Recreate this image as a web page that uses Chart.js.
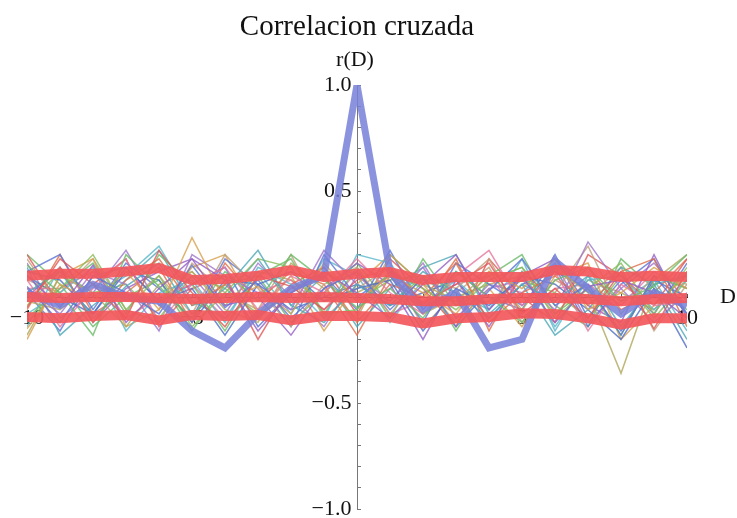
<!DOCTYPE html>
<html>
<head>
<meta charset="utf-8">
<script src="https://cdn.jsdelivr.net/npm/chart.js@4/dist/chart.umd.min.js"></script>
<style>
  html, body { margin: 0; padding: 0; background: #fff; }
  #wrap { width: 737px; height: 518px; }
</style>
</head>
<body>
<div id="wrap"><canvas id="myChart" width="737" height="518"></canvas></div>
<script>
// lags D = -10 .. 10
var lags = [-10,-9,-8,-7,-6,-5,-4,-3,-2,-1,0,1,2,3,4,5,6,7,8,9,10]

// thick curves
var autoCorr  = [0.02,-0.04,0.06,0.00,-0.02,-0.16,-0.24,-0.08,0.04,0.10,1.00,0.12,-0.06,0.02,-0.24,-0.20,0.17,0.04,-0.08,0.02,-0.04]
var bandUpper = [0.10,0.11,0.11,0.12,0.137,0.08,0.085,0.10,0.127,0.094,0.11,0.118,0.08,0.094,0.094,0.094,0.127,0.12,0.094,0.10,0.094]
var bandMean  = [0.00,-0.005,0.00,0.00,-0.005,-0.01,-0.005,0.00,-0.005,0.00,-0.005,-0.01,-0.02,-0.02,-0.01,-0.005,-0.005,-0.01,-0.02,-0.01,-0.005]
var bandLower = [-0.094,-0.10,-0.09,-0.085,-0.11,-0.085,-0.09,-0.085,-0.11,-0.09,-0.09,-0.095,-0.125,-0.10,-0.094,-0.077,-0.08,-0.10,-0.13,-0.10,-0.10]

// thin cross-correlation curves
var cross1  = [0.05,-0.12,0.10,0.02,-0.08,0.15,-0.05,0.08,-0.10,0.04,0.12,-0.06,0.09,-0.14,0.03,0.18,-0.04,0.06,-0.18,0.10,-0.08]
var cross2  = [0.15,0.02,-0.18,0.20,0.05,-0.10,0.12,-0.02,0.20,0.08,-0.05,0.04,-0.10,0.12,0.00,-0.12,0.08,0.14,-0.02,0.05,0.20]
var cross3  = [-0.05,0.18,0.06,-0.10,0.22,0.02,-0.14,0.10,0.05,-0.06,0.08,0.14,-0.03,0.06,0.16,-0.08,0.04,-0.10,0.12,-0.15,0.12]
var cross4  = [0.10,-0.05,0.15,-0.12,0.04,0.18,0.08,-0.16,0.02,0.12,0.02,-0.10,0.06,0.20,-0.06,0.10,-0.12,0.05,0.08,0.02,-0.10]
var cross5  = [-0.15,0.06,-0.02,0.12,-0.06,0.28,-0.02,0.05,-0.08,0.16,-0.02,0.10,0.02,-0.08,0.12,0.04,0.18,-0.06,0.02,0.14,0.04]
var cross6  = [0.02,0.12,-0.10,0.05,0.16,-0.08,0.04,0.22,-0.04,-0.12,0.06,-0.04,0.12,0.02,-0.10,0.06,-0.02,0.10,-0.14,0.06,0.10]
var cross7  = [0.08,-0.14,0.04,0.18,-0.12,0.06,0.14,-0.06,0.10,0.02,0.18,0.02,-0.08,0.10,0.22,-0.04,0.12,-0.16,0.06,-0.04,-0.02]
var cross8  = [-0.10,0.04,0.20,-0.06,0.10,-0.14,0.02,0.18,0.14,-0.08,-0.06,0.12,0.04,-0.06,0.08,0.14,-0.10,0.04,0.16,-0.08,0.14]
var cross9  = [0.12,0.08,-0.08,0.14,-0.02,0.04,-0.18,0.06,0.12,-0.02,0.04,0.08,-0.16,0.04,-0.04,0.10,0.06,-0.06,-0.20,0.04,-0.24]
var cross10 = [-0.18,0.10,0.02,-0.14,0.06,0.12,-0.06,-0.12,0.16,0.04,-0.10,0.20,0.06,-0.02,0.12,-0.06,0.14,0.02,-0.36,0.08,0.20]
var cross11 = [0.04,-0.08,0.12,0.06,-0.16,0.20,0.10,0.02,-0.06,0.22,0.06,-0.02,0.14,-0.10,0.04,0.08,-0.06,0.26,0.04,-0.12,0.02]
var cross12 = [-0.02,0.14,-0.12,0.08,0.18,-0.04,0.06,-0.10,0.04,0.10,-0.12,0.06,0.00,0.16,-0.12,0.02,0.10,-0.04,0.12,0.18,-0.14]
var cross13 = [0.18,-0.04,0.06,-0.02,0.10,-0.08,0.20,0.04,-0.14,0.06,0.14,-0.08,0.10,0.04,0.18,-0.10,0.02,0.24,-0.08,0.10,0.06]
var cross14 = [-0.08,0.02,0.14,-0.16,0.02,0.08,-0.12,0.14,0.06,-0.10,0.20,0.16,-0.04,0.08,-0.06,0.12,-0.14,0.08,0.10,-0.06,0.08]
var cross15 = [0.12,0.20,-0.06,0.16,0.04,-0.10,0.18,0.06,-0.14,0.20,0.00,0.10,-0.12,0.16,0.06,-0.04,0.14,-0.14,0.06,0.18,-0.08]
var cross16 = [-0.12,0.04,0.16,-0.08,0.20,0.06,-0.16,0.10,0.18,-0.08,0.14,-0.10,0.18,-0.04,0.10,0.20,-0.08,0.04,-0.18,0.10,0.04]
var cross17 = [0.20,-0.04,0.06,0.18,-0.14,0.04,0.10,-0.20,0.06,0.14,-0.08,0.18,0.04,-0.14,0.18,0.00,-0.12,0.20,0.10,-0.04,0.18]
var cross18 = [0.00,0.14,-0.12,0.04,0.12,0.18,-0.04,0.00,-0.18,0.04,0.16,0.06,-0.20,0.08,-0.14,0.10,0.18,-0.04,-0.12,0.20,-0.10]
var cross19 = [-0.20,0.10,0.18,-0.14,-0.06,0.14,0.20,-0.08,0.10,-0.16,0.06,0.20,0.06,-0.12,0.04,-0.14,0.10,0.16,-0.20,-0.04,0.10]
var cross20 = [0.14,-0.18,-0.04,0.08,0.22,-0.04,0.00,0.18,-0.04,0.10,-0.14,0.04,0.14,0.20,-0.08,0.06,-0.18,-0.06,0.14,0.06,-0.20]
var cross21 = [0.04,0.04,0.12,-0.10,0.00,0.06,-0.10,0.02,0.08,-0.06,0.12,-0.08,-0.02,0.06,0.10,-0.10,0.04,0.06,-0.04,0.12,0.04]
var cross22 = [-0.04,0.12,0.02,0.06,-0.10,0.10,0.04,-0.08,0.02,0.14,-0.02,0.08,0.10,-0.04,-0.02,0.08,0.02,-0.10,0.10,-0.10,0.08]
var cross23 = [0.10,0.00,-0.08,0.12,0.08,-0.12,0.08,0.06,-0.06,0.00,0.06,-0.04,0.02,0.08,-0.10,0.06,0.12,0.04,-0.16,0.08,0.00]
var cross24 = [-0.02,-0.06,0.06,0.00,-0.02,0.12,-0.04,0.12,0.08,-0.02,0.02,0.10,-0.08,0.00,0.06,0.10,-0.08,0.08,0.02,-0.06,0.12]
var cross25 = [0.16,-0.10,0.02,0.22,-0.04,0.10,-0.08,0.16,0.00,-0.14,0.10,-0.02,0.16,-0.10,0.06,0.02,0.16,-0.12,0.04,0.16,-0.02]
var cross26 = [-0.06,0.20,-0.08,0.02,0.14,-0.12,0.16,-0.02,0.12,0.06,-0.18,0.10,-0.04,0.18,-0.16,0.12,-0.02,0.14,-0.06,0.02,0.18]
var cross27 = [0.08,0.02,0.18,-0.06,-0.12,0.16,0.02,-0.06,0.20,-0.10,0.04,0.14,-0.14,0.02,0.14,-0.12,0.08,0.00,0.14,-0.16,0.06]
var cross28 = [-0.14,0.14,0.00,0.10,0.24,-0.02,-0.10,0.12,-0.08,0.18,0.10,-0.12,0.08,0.02,-0.06,0.18,-0.16,0.10,-0.02,0.08,-0.16]
var cross29 = [0.02,-0.16,0.10,0.14,-0.02,0.06,0.14,-0.14,0.02,0.10,-0.06,0.22,-0.06,0.12,0.00,-0.06,0.20,-0.10,0.08,-0.08,0.16]
var cross30 = [0.20,0.06,-0.14,0.00,0.08,-0.16,0.06,0.10,-0.12,0.02,0.16,-0.04,0.10,-0.16,0.08,0.14,-0.04,-0.14,0.18,0.04,-0.06]

var crossSeries = [cross1,cross2,cross3,cross4,cross5,cross6,cross7,cross8,cross9,cross10,
                   cross11,cross12,cross13,cross14,cross15,cross16,cross17,cross18,cross19,cross20,
                   cross21,cross22,cross23,cross24,cross25,cross26,cross27,cross28,cross29,cross30]
var crossColors = ['#5f76d4','#6cbc6a','#e05a5a','#9560c4','#d8a050','#4fa8b8','#e678a0','#88bc5c',
                   '#5070c4','#b0a860','#a078cc','#e0704c','#c0a07c','#5cb8cc']

var yLabels = {'1': '1.0', '0.5': '0.5', '-0.5': '\u22120.5', '-1': '\u22121.0'}
var xLabels = [-10, -5, 5, 10]

var serif = "'Liberation Serif', 'DejaVu Serif', serif"

function toPoints(values){
  return values.map(function(v, i){ return {x: lags[i], y: v} })
}

var datasets = []
;[bandUpper, bandMean, bandLower].forEach(function(vals){
  datasets.push({data: toPoints(vals), borderColor: 'rgba(243,88,92,0.92)', borderWidth: 10,
                 pointRadius: 0, tension: 0, borderJoinStyle: 'round', borderCapStyle: 'round', order: 0})
})
datasets.push({data: toPoints(autoCorr), borderColor: 'rgba(120,128,216,0.85)', borderWidth: 7,
               pointRadius: 0, tension: 0, borderJoinStyle: 'miter', order: 1})
crossSeries.forEach(function(vals, i){
  datasets.push({data: toPoints(vals), borderColor: crossColors[i % crossColors.length] + 'd0', borderWidth: 1.5,
                 pointRadius: 0, tension: 0, order: 2})
})

var axisText = {
  id: 'axisText',
  afterDraw: function(chart){
    var ctx = chart.ctx
    var x0 = chart.scales.x.getPixelForValue(0)
    var y0 = chart.scales.y.getPixelForValue(0)
    ctx.save()
    ctx.fillStyle = '#111'
    ctx.textAlign = 'center'
    ctx.textBaseline = 'alphabetic'
    ctx.font = '29px ' + serif
    ctx.fillText('Correlacion cruzada', x0, 35)
    ctx.font = '22px ' + serif
    ctx.fillText('r(D)', x0 - 2, 66)
    ctx.textAlign = 'left'
    ctx.textBaseline = 'middle'
    ctx.fillText('D', chart.scales.x.right + 33, y0)
    ctx.restore()
  }
}

function noPadding(scale){
  scale.paddingTop = 0
  scale.paddingBottom = 0
  scale.paddingLeft = 0
  scale.paddingRight = 0
}

var ctx = document.getElementById('myChart').getContext('2d')
new Chart(ctx, {
  type: 'line',
  data: { datasets: datasets },
  options: {
    responsive: false,
    animation: false,
    events: [],
    layout: { padding: { left: 27, right: 50, top: 85, bottom: 9 } },
    plugins: { legend: { display: false }, title: { display: false }, tooltip: { enabled: false } },
    scales: {
      x: {
        type: 'linear', min: -10, max: 10, z: 1,
        position: { y: 0 },
        afterFit: noPadding,
        border: { color: '#222', width: 1 },
        grid: { drawOnChartArea: false, tickLength: -4, color: '#555' },
        ticks: {
          stepSize: 1, autoSkip: false, maxRotation: 0, padding: 12,
          color: '#111', font: { family: serif, size: 22 },
          callback: function(v){ return xLabels.indexOf(v) >= 0 ? (v < 0 ? '\u2212' + (-v) : '' + v) : '' }
        }
      },
      y: {
        type: 'linear', min: -1, max: 1, z: 1,
        position: { x: 0 },
        afterFit: noPadding,
        border: { color: '#777', width: 1 },
        grid: { drawOnChartArea: false, tickLength: -4, color: '#777' },
        ticks: {
          stepSize: 0.1, autoSkip: false, padding: 8,
          color: '#111', font: { family: serif, size: 22 },
          callback: function(v){ var k = '' + Math.round(v * 10) / 10; return yLabels[k] ? yLabels[k] + ' ' : '' }
        }
      }
    }
  },
  plugins: [axisText]
})
</script>
</body>
</html>
